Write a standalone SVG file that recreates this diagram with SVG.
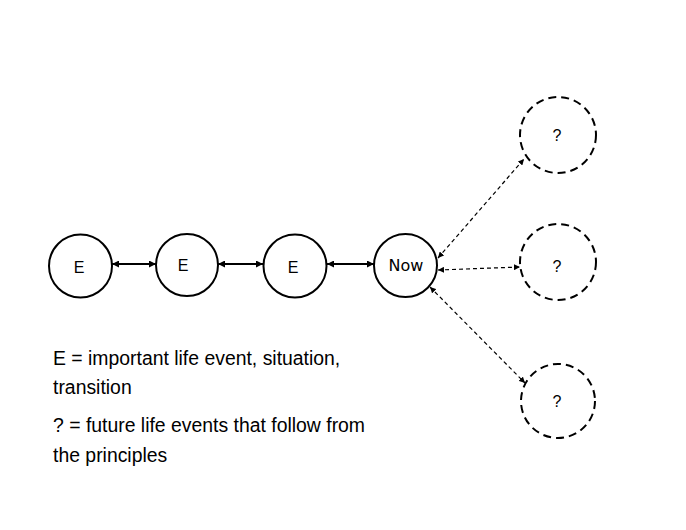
<svg xmlns="http://www.w3.org/2000/svg" width="686" height="530" viewBox="0 0 686 530">
<defs>
<marker id="ah" viewBox="0 0 10 10" refX="10" refY="5" markerWidth="7" markerHeight="7" markerUnits="userSpaceOnUse" orient="auto-start-reverse">
<path d="M0,0 L10,5 L0,10 z" fill="#000"/>
</marker>
<marker id="ahs" viewBox="0 0 10 10" refX="10" refY="5" markerWidth="6" markerHeight="6" markerUnits="userSpaceOnUse" orient="auto-start-reverse">
<path d="M0,0 L10,5 L0,10 z" fill="#000"/>
</marker>
</defs>
<style>
.n{fill:#fff;stroke:#000;stroke-width:2}
.q{fill:#fff;stroke:#000;stroke-width:2;stroke-dasharray:8,5}
.t{font-family:"Liberation Sans",Arial,sans-serif;font-size:16px;text-anchor:middle;fill:#000}
.tn{font-family:"DejaVu Sans",Verdana,sans-serif;font-size:16px;text-anchor:middle;fill:#000}
.l{font-family:"Liberation Sans",Arial,sans-serif;font-size:19.4px;fill:#000}
.c{stroke:#000;stroke-width:2;fill:none;marker-start:url(#ah);marker-end:url(#ah)}
.d{stroke:#000;stroke-width:1.2;stroke-dasharray:4,3;fill:none;marker-start:url(#ahs);marker-end:url(#ahs)}
</style>
<rect width="686" height="530" fill="#fff"/>
<g id="connectors">
<line class="c" x1="112" y1="264" x2="156" y2="264"/>
<line class="c" x1="218" y1="264" x2="263" y2="264"/>
<line class="c" x1="327" y1="264" x2="374" y2="264"/>
<line class="d" x1="438" y1="258" x2="524" y2="159"/>
<line class="d" x1="438" y1="270" x2="520" y2="267"/>
<line class="d" x1="430" y1="287" x2="525" y2="383"/>
</g>
<g id="e1"><circle class="n" cx="80.5" cy="266" r="31.5"/><text class="t" x="79" y="273">E</text></g>
<g id="e2"><circle class="n" cx="187" cy="265" r="31"/><text class="t" x="183" y="271">E</text></g>
<g id="e3"><circle class="n" cx="295" cy="266" r="31.5"/><text class="t" x="293" y="273">E</text></g>
<g id="now"><circle class="n" cx="405.5" cy="265.5" r="31.5"/><text class="tn" x="406" y="271">Now</text></g>
<g id="q1"><circle class="q" cx="558" cy="135" r="38"/><text class="t" x="557" y="141">?</text></g>
<g id="q2"><circle class="q" cx="558" cy="262" r="38"/><text class="t" x="557" y="272">?</text></g>
<g id="q3"><circle class="q" cx="558" cy="401" r="37"/><text class="t" x="557" y="407">?</text></g>
<g id="legend">
<text class="l" x="53" y="365">E = important life event, situation,</text>
<text class="l" x="53" y="394">transition</text>
<text class="l" x="53" y="432">? = future life events that follow from</text>
<text class="l" x="53" y="462">the principles</text>
</g>
</svg>
